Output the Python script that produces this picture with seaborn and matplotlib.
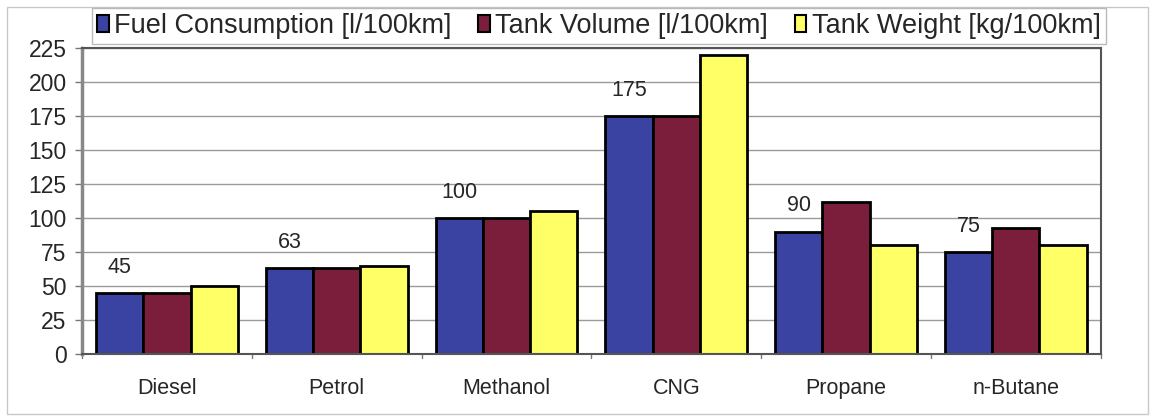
import matplotlib
matplotlib.use("Agg")
import matplotlib.pyplot as plt
import matplotlib.patches as mpatches
import seaborn as sns
import pandas as pd

# Fuel comparison data
fuels = ["Diesel", "Petrol", "Methanol", "CNG", "Propane", "n-Butane"]
fuel_consumption = [45, 63, 100, 175, 90, 75]
tank_volume = [45, 63, 100, 175, 112, 93]
tank_weight = [50, 65, 105, 220, 80, 80]
series_names = ["Fuel Consumption [l/100km]", "Tank Volume [l/100km]", "Tank Weight [kg/100km]"]
y_ticks = [0, 25, 50, 75, 100, 125, 150, 175, 200, 225]

colors = ["#3A42A2", "#7A1E3C", "#FFFF66"]

df = pd.DataFrame({
    "Fuel": fuels * 3,
    "Series": [series_names[0]] * 6 + [series_names[1]] * 6 + [series_names[2]] * 6,
    "Value": fuel_consumption + tank_volume + tank_weight,
})

sns.set_theme(style="white")
plt.rcParams["font.family"] = ["Liberation Sans", "DejaVu Sans"]

fig = plt.figure(figsize=(11.55, 4.19), dpi=100)
ax = fig.add_axes([0.071, 0.155, 0.882, 0.730])

sns.barplot(data=df, x="Fuel", y="Value", hue="Series", order=fuels,
            hue_order=series_names, palette=colors, width=0.835, gap=0,
            edgecolor="black", linewidth=2, saturation=1, ax=ax, legend=False,
            errorbar=None)

ax.set_ylim(0, 225)
ax.set_xlim(-0.5, len(fuels) - 0.5)
ax.set_yticks(y_ticks)
ax.set_yticklabels([str(t) for t in y_ticks], fontsize=16.5)
ax.tick_params(axis="x", labelsize=15.5, pad=17, length=0)
ax.tick_params(axis="y", length=5, width=1, color="#777777", pad=6, left=True)
ax.set_xlabel("")
ax.set_ylabel("")

# Horizontal gridlines behind the bars
ax.set_axisbelow(True)
ax.yaxis.grid(True, color="#9a9a9a", linewidth=1)
for sp in ax.spines.values():
    sp.set_color("#555555")
    sp.set_linewidth(1.5)
ax.spines["left"].set_color("#888888")
ax.spines["left"].set_linewidth(2.5)

# Small separator ticks between categories along the x axis
for b in range(len(fuels) + 1):
    ax.plot([b - 0.5, b - 0.5], [0, -3], color="#777777", linewidth=1,
            clip_on=False)

# Value labels above the fuel consumption bars
ax.bar_label(ax.containers[0], labels=[str(v) for v in fuel_consumption],
             padding=11, fontsize=15.5)

# Legend across the top
handles = [mpatches.Patch(facecolor=c, edgecolor="black", linewidth=1.5)
           for c in colors]
leg = fig.legend(handles, series_names, loc="upper left", ncol=3,
                 bbox_to_anchor=(0.0795, 0.982), fontsize=19.5, frameon=True,
                 fancybox=False, borderpad=0.2, handlelength=0.42,
                 handleheight=0.55, handletextpad=0.2, columnspacing=1.0,
                 borderaxespad=0)
leg.get_frame().set_edgecolor("#aaaaaa")
leg.get_frame().set_linewidth(1)

# Light outer frame around the chart
fig.patches.append(mpatches.Rectangle((0.006, 0.012), 0.988, 0.972,
                                      transform=fig.transFigure, fill=False,
                                      edgecolor="#c8c8c8", linewidth=1))

fig.savefig("out.png", dpi=100)
